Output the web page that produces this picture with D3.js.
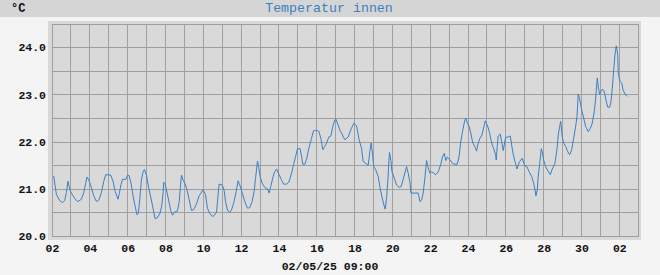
<!DOCTYPE html>
<html>
<head>
<meta charset="utf-8">
<script src="https://cdn.jsdelivr.net/npm/d3@7"></script>
<style>
    body { margin: 0; background: #f4f4f4; }
    svg text { font-family: "Liberation Mono", "DejaVu Sans Mono", monospace; }
</style>
</head>
<body>
<div id="chart"></div>
<script>
// data: hours since 02.04.2025 00:00 and temperature in °C
const startTime = "2025-04-02T00:00";
const endTime = "2025-05-03T00:00";

const hours = [
    2.2, 5.6, 9.8, 13.2, 16.1, 18.3, 20.3, 21.6, 23.4, 26.7, 31.0, 33.0, 37.3, 40.3, 42.8, 44.4, 47.0, 50.0, 53.0, 56.4,
    59.7, 62.7, 65.7, 68.2, 74.5, 77.5, 80.0, 83.8, 85.1, 87.6, 89.4, 93.6, 96.1, 97.8, 100.3, 102.9, 105.4, 107.9, 109.7, 111.4,
    113.5, 115.6, 117.3, 119.9, 122.4, 125.0, 128.3, 130.8, 133.3, 136.8, 139.3, 141.0, 141.8, 143.5, 146.0, 148.6, 150.7, 152.9, 155.8, 159.2,
    161.3, 163.0, 164.3, 166.3, 168.5, 170.7, 174.0, 177.0, 179.9, 183.4, 186.7, 191.7, 194.8, 197.3, 200.3, 204.4, 208.8, 210.8, 212.1, 215.9,
    218.4, 220.2, 222.7, 225.3, 227.8, 231.1, 233.7, 236.2, 238.4, 240.5, 244.7, 248.1, 251.0, 254.0, 256.5, 258.3, 259.6, 260.8, 262.5, 264.1,
    266.7, 270.1, 273.5, 275.6, 277.7, 280.6, 282.8, 285.0, 287.9, 291.3, 293.8, 297.7, 300.6, 304.0, 306.5, 309.1, 311.6, 314.9, 316.7, 318.3,
    320.9, 323.4, 326.0, 329.4, 331.9, 334.5, 338.7, 341.2, 343.7, 346.3, 348.8, 351.4, 353.9, 356.4, 359.0, 360.3, 365.3, 371.7, 375.9, 380.2,
    383.1, 386.5, 389.8, 392.9, 394.9, 401.3, 403.4, 405.1, 406.9, 408.5, 411.0, 414.0, 416.1, 418.7, 421.2, 422.9, 424.6, 426.3, 427.6, 428.4,
    430.1, 431.4, 433.9, 437.3, 440.6, 443.2, 445.7, 448.8, 450.0, 452.1, 454.2, 455.5, 464.8, 466.9, 469.1, 471.1, 473.3, 475.4, 477.5, 479.6,
    481.8, 483.8, 487.2, 490.2, 493.2, 495.7, 497.8, 499.9, 501.6, 505.0, 508.4, 511.4, 514.3, 516.8, 518.6, 521.1, 523.7, 525.3, 527.0, 529.5,
    532.1, 533.8, 536.4, 538.9, 540.6, 543.1, 545.7, 548.2, 549.8, 551.6, 553.7, 555.4, 557.1, 558.7, 560.5, 563.0, 563.8, 565.1, 566.3, 568.9,
    570.7, 572.7, 574.0, 575.7, 579.0, 581.6, 583.4, 585.0, 587.6, 590.1, 591.7, 593.5, 596.8, 598.6, 600.3, 602.8, 605.3, 608.8, 611.3, 613.0,
    614.2, 615.9, 617.1, 619.3, 621.0, 622.2, 624.0, 626.5, 629.8, 632.4, 634.9, 638.3, 640.9, 642.5, 644.3, 645.6, 647.6, 649.4, 651.9, 654.5,
    657.0, 659.6, 662.1, 664.6, 666.3, 667.9, 669.7, 672.3, 674.8, 677.3, 680.6, 683.2, 685.7, 688.3, 690.0, 692.1, 693.3, 695.1, 696.8, 698.4,
    700.2, 701.8, 703.5, 705.3, 707.8, 709.5, 711.1, 712.9, 714.5, 716.2, 718.0, 718.7, 720.9, 723.1, 724.7, 727.2, 729.8
];

const temps = [
    21.27, 20.88, 20.75, 20.71, 20.75, 20.92, 21.16, 21.05, 20.95, 20.85, 20.75, 20.73, 20.78, 20.92, 21.12, 21.25, 21.18, 21.02, 20.85, 20.73,
    20.77, 20.92, 21.16, 21.30, 21.29, 21.16, 20.95, 20.78, 20.88, 21.09, 21.20, 21.20, 21.29, 21.28, 21.12, 20.85, 20.64, 20.45, 20.49, 20.78,
    21.19, 21.36, 21.41, 21.29, 21.05, 20.85, 20.58, 20.37, 20.38, 20.47, 20.64, 20.92, 21.14, 21.11, 20.92, 20.71, 20.54, 20.44, 20.51, 20.53,
    20.71, 21.05, 21.29, 21.19, 21.12, 21.02, 20.78, 20.54, 20.56, 20.68, 20.85, 20.98, 20.88, 20.59, 20.47, 20.41, 20.50, 20.87, 21.10, 21.08,
    20.98, 20.73, 20.55, 20.50, 20.55, 20.73, 20.94, 21.17, 21.08, 20.96, 20.73, 20.59, 20.60, 20.73, 20.94, 21.22, 21.40, 21.59, 21.45, 21.26,
    21.12, 21.03, 21.00, 20.91, 21.05, 21.26, 21.37, 21.42, 21.31, 21.19, 21.10, 21.10, 21.14, 21.33, 21.51, 21.68, 21.85, 21.85, 21.69, 21.52,
    21.52, 21.65, 21.86, 22.07, 22.23, 22.24, 22.22, 22.07, 21.83, 21.90, 21.98, 22.10, 22.12, 22.32, 22.46, 22.48, 22.25, 22.04, 22.10, 22.29,
    22.39, 22.34, 22.04, 21.86, 21.58, 21.50, 21.79, 21.97, 21.72, 21.47, 21.40, 21.26, 21.05, 20.83, 20.66, 20.57, 20.80, 21.19, 21.60, 21.77,
    21.60, 21.37, 21.25, 21.08, 21.03, 21.05, 21.20, 21.40, 21.47, 21.33, 21.15, 20.91, 20.91, 20.73, 20.76, 20.91, 21.23, 21.60, 21.45, 21.33,
    21.36, 21.34, 21.30, 21.36, 21.51, 21.68, 21.75, 21.60, 21.67, 21.62, 21.54, 21.52, 21.52, 21.70, 21.97, 22.22, 22.44, 22.50, 22.40, 22.32,
    22.14, 21.99, 21.90, 21.80, 21.95, 22.07, 22.14, 22.32, 22.44, 22.38, 22.29, 22.18, 22.04, 21.93, 21.86, 21.72, 21.61, 21.90, 22.12, 22.16,
    22.00, 21.81, 21.93, 22.09, 22.10, 22.12, 21.93, 21.76, 21.58, 21.42, 21.50, 21.58, 21.65, 21.55, 21.49, 21.47, 21.37, 21.26, 21.12, 20.98,
    20.85, 20.98, 21.26, 21.58, 21.85, 21.78, 21.61, 21.47, 21.37, 21.30, 21.42, 21.54, 21.83, 22.14, 22.32, 22.43, 22.10, 21.97, 21.90, 21.79,
    21.72, 21.83, 22.07, 22.32, 22.53, 23.01, 22.90, 22.67, 22.50, 22.32, 22.21, 22.28, 22.39, 22.64, 22.92, 23.35, 23.17, 23.00, 23.06, 23.11,
    23.09, 23.00, 22.85, 22.73, 22.73, 22.85, 23.13, 23.52, 23.84, 24.03, 23.84, 23.45, 23.28, 23.24, 23.10, 23.01, 22.96
];

const yTicks = [20, 21, 22, 23, 24];
const titleText = "Temperatur innen";
const unitText = "°C";
const dateText = "02/05/25 09:00";

const width = 660;
const height = 275;

const parseTime = d3.utcParse("%Y-%m-%dT%H:%M");
const t0 = parseTime(startTime);
const t1 = parseTime(endTime);

const points = hours.map((h, i) => ({
    date: new Date(t0.getTime() + h * 3600 * 1000),
    value: temps[i]
}));

const x = d3.scaleUtc()
    .domain([t0, t1])
    .range([52, 638.2]);

const y = d3.scaleLinear()
    .domain([20, 24.5])
    .range([236, 23.7]);

const crisp = v => Math.floor(v) + 0.5;

const svg = d3.select("#chart")
    .append("svg")
    .attr("width", width)
    .attr("height", height);

// header
svg.append("rect")
    .attr("x", 0)
    .attr("y", 0)
    .attr("width", width)
    .attr("height", 17)
    .attr("fill", "#d5d5d5");

svg.append("text")
    .attr("x", 11)
    .attr("y", 12)
    .attr("font-size", "12px")
    .attr("font-weight", "bold")
    .attr("fill", "#111")
    .text(unitText);

svg.append("text")
    .attr("x", 329)
    .attr("y", 12)
    .attr("text-anchor", "middle")
    .attr("font-size", "13.3px")
    .attr("fill", "#3b80c2")
    .text(titleText);

// plot panel
svg.append("rect")
    .attr("x", 48)
    .attr("y", 21)
    .attr("width", 593)
    .attr("height", 219)
    .attr("fill", "#d9d9d9");

// grid
const dayLines = d3.utcDay.range(t0, t1).concat([t1]);
const tempLines = d3.range(20, 24.51, 0.5);

const grid = svg.append("g")
    .attr("stroke", "#9f9f9f")
    .attr("stroke-width", 1)
    .attr("shape-rendering", "crispEdges");

grid.selectAll("line.v")
    .data(dayLines)
    .enter()
    .append("line")
    .attr("class", "v")
    .attr("x1", d => crisp(x(d)))
    .attr("x2", d => crisp(x(d)))
    .attr("y1", Math.round(y(24.5)))
    .attr("y2", Math.round(y(20)) + 1);

grid.selectAll("line.h")
    .data(tempLines)
    .enter()
    .append("line")
    .attr("class", "h")
    .attr("x1", crisp(x(t0)))
    .attr("x2", crisp(x(t1)))
    .attr("y1", d => Math.round(y(d)) + 0.5)
    .attr("y2", d => Math.round(y(d)) + 0.5);

// axes
const xTicks = d3.utcDay.range(t0, t1).filter((d, i) => i % 2 === 0);

const xAxis = svg.append("g")
    .attr("transform", `translate(0,${Math.round(y(20))})`)
    .call(d3.axisBottom(x)
        .tickValues(xTicks)
        .tickFormat(d3.utcFormat("%d"))
        .tickSize(0)
        .tickPadding(8));

const yAxis = svg.append("g")
    .attr("transform", `translate(${x(t0)},0)`)
    .call(d3.axisLeft(y)
        .tickValues(yTicks)
        .tickFormat(d3.format(".1f"))
        .tickSize(0)
        .tickPadding(6));

[xAxis, yAxis].forEach(ax => {
    ax.select(".domain").remove();
    ax.selectAll("text")
        .attr("font-family", "'Liberation Mono', 'DejaVu Sans Mono', monospace")
        .attr("font-size", "11.5px")
        .attr("font-weight", "bold")
        .attr("fill", "#111");
});

// series
const line = d3.line()
    .x(d => x(d.date))
    .y(d => y(d.value));

svg.append("path")
    .datum(points)
    .attr("fill", "none")
    .attr("stroke", "#3a80c3")
    .attr("stroke-width", 1)
    .attr("d", line);

svg.append("text")
    .attr("x", 330)
    .attr("y", 270)
    .attr("text-anchor", "middle")
    .attr("font-size", "11.5px")
    .attr("font-weight", "bold")
    .attr("fill", "#111")
    .text(dateText);
</script>
</body>
</html>
